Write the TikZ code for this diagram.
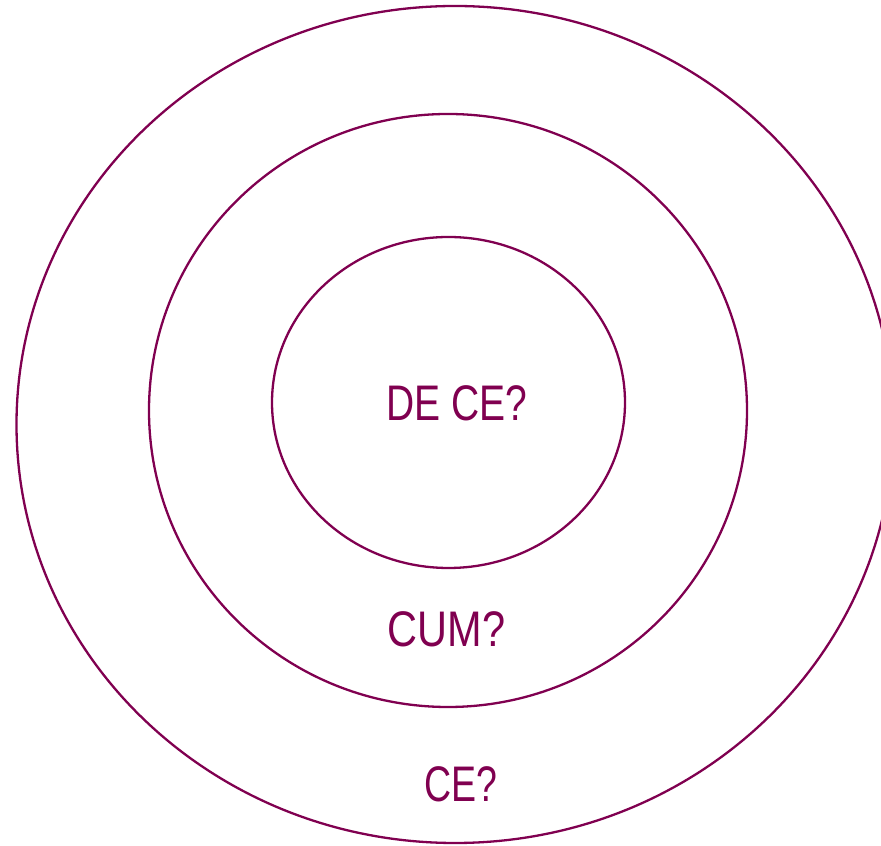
\documentclass[tikz,border=0pt]{standalone}
\usepackage{fontspec}
\setmainfont{Liberation Sans}
\definecolor{ring}{RGB}{128,0,80}
\begin{document}
\begin{tikzpicture}[x=1pt,y=1pt,
  ringline/.style={draw=ring,line width=2.3pt},
  lbl/.style={text=ring,inner sep=0pt,font=\fontsize{50}{50}\selectfont}]
\useasboundingbox (0,0) rectangle (881,846);
\clip (0,0) rectangle (881,846);
\draw[ringline] (455,421.5) ellipse [x radius=438.5, y radius=418.5];
\draw[ringline] (448,435.5) ellipse [x radius=299, y radius=296.5];
\draw[ringline] (448.5,443.5) ellipse [x radius=176.5, y radius=165.5];
\node[lbl] (dece) at (456.5,442.5) {\scalebox{0.78}[1]{DE CE?}};
\node[lbl] (cum) at (446.5,216.5) {\scalebox{0.83}[1]{CUM?}};
\node[lbl] (ce) at (461,61.5) {\scalebox{0.75}[1]{CE?}};
\end{tikzpicture}
\end{document}
